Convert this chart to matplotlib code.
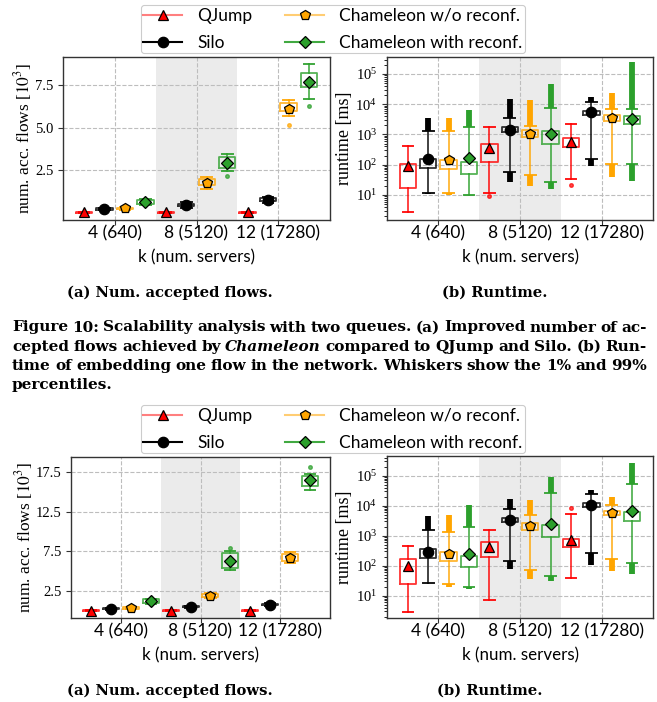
import matplotlib
matplotlib.use('Agg')
import matplotlib.pyplot as plt
from matplotlib.lines import Line2D

plt.rcParams['mathtext.fontset'] = 'stix'
plt.rcParams['axes.linewidth'] = 1.0

SANS = 'Lato'
SERIF = 'Liberation Serif'
CAPSERIF = 'DejaVu Serif'

# ---------------- data ----------------
groups = ['4 (640)', '8 (5120)', '12 (17280)']
series = ['QJump', 'Silo', 'Chameleon w/o reconf.', 'Chameleon with reconf.']
colors = ['#ff0000', '#000000', '#ffa500', '#2ca02c']
markers = ['^', 'o', 'p', 'D']

# (A) two queues: num. accepted flows [10^3]   rows = series, cols = groups
A_mean = [[0.03, 0.03, 0.03], [0.23, 0.48, 0.76], [0.27, 1.77, 6.11], [0.63, 2.91, 7.69]]
A_q1 = [[0.02, 0.02, 0.02], [0.19, 0.42, 0.70], [0.22, 1.64, 5.97], [0.50, 2.62, 7.36]]
A_q3 = [[0.04, 0.04, 0.04], [0.27, 0.55, 0.85], [0.32, 1.97, 6.42], [0.75, 3.26, 8.22]]
A_wlo = [[0.01, 0.01, 0.01], [0.16, 0.32, 0.60], [0.18, 1.40, 5.68], [0.45, 2.48, 6.68]]
A_whi = [[0.05, 0.05, 0.05], [0.30, 0.64, 0.92], [0.36, 2.13, 6.62], [0.80, 3.45, 8.71]]
A_fliers = [[[], [], []], [[], [], []], [[], [], [5.14]], [[], [2.17], [6.27]]]

# (B) two queues: runtime [ms]
B_mean = [[87, 355, 580], [150, 1420, 5400], [138, 1030, 3500], [162, 1030, 3300]]
B_q1 = [[17, 126, 370], [76, 1200, 4470], [71, 810, 2700], [50, 490, 2180]]
B_q3 = [[105, 480, 760], [155, 1700, 5800], [145, 1350, 4260], [126, 1260, 4200]]
B_wlo = [[2.8, 12, 34], [12, 59, 155], [12, 44, 105], [9.8, 26, 105]]
B_whi = [[420, 1740, 2180], [1260, 3500, 11800], [1260, 1900, 7100], [1740, 7400, 7100]]
B_fliers = [[[], [9.5], [21]], [[], [], []], [[], [], []], [[], [], []]]
B_fhi = [[None, None, None], [3500, 14800, 17300], [3600, 13800, 23000], [6500, 47000, 240000]]
B_flo = [[None, None, None], [11, 26, 93], [9.8, 19, 40], [None, 15.4, 28]]

# (C) second figure: num. accepted flows [10^3]
C_mean = [[0.03, 0.03, 0.03], [0.24, 0.50, 0.79], [0.37, 1.91, 6.72], [1.20, 6.34, 16.5]]
C_q1 = [[0.02, 0.02, 0.02], [0.18, 0.42, 0.70], [0.28, 1.72, 6.30], [0.96, 5.43, 15.79]]
C_q3 = [[0.04, 0.04, 0.04], [0.30, 0.58, 0.88], [0.46, 2.10, 7.14], [1.46, 7.30, 17.0]]
C_wlo = [[0.01, 0.01, 0.01], [0.12, 0.33, 0.60], [0.22, 1.62, 6.05], [0.90, 5.09, 15.2]]
C_whi = [[0.05, 0.05, 0.05], [0.36, 0.66, 0.95], [0.52, 2.25, 7.47], [1.52, 7.60, 17.2]]
C_fliers = [[[], [], []], [[], [], []], [[], [], []], [[], [7.93], [18.17]]]

# (D) second figure: runtime [ms]
D_mean = [[97, 430, 720], [293, 3340, 10500], [240, 2100, 5600], [245, 2450, 6600]]
D_q1 = [[24.5, 200, 410], [185, 2950, 8800], [143, 1550, 4800], [93, 930, 3160]]
D_q3 = [[166, 600, 810], [350, 3800, 12000], [293, 2770, 6800], [210, 2300, 6000]]
D_wlo = [[2.9, 7.2, 40], [27, 143, 270], [24, 72, 165], [20, 46, 120]]
D_whi = [[465, 1550, 5300], [1550, 7600, 25600], [1360, 4900, 10500], [2000, 27000, 55000]]
D_fliers = [[[], [], [8200]], [[], [], []], [[], [], []], [[], [], []]]
D_fhi = [[None, None, None], [4650, 16300, 33000], [4900, 15500, 20000], [10500, 93000, 270000]]
D_flo = [[None, None, None], [None, 77, 110], [20, 36, 68], [16.7, 32, 53]]

caption_lines = [
    "Figure 10: Scalability analysis with two queues. (a) Improved number of ac-",
    "cepted flows achieved by Chameleon compared to QJump and Silo. (b) Run-",
    "time of embedding one flow in the network. Whiskers show the 1% and 99%",
    "percentiles.",
]
italic_words = {"Chameleon"}

# ---------------- layout ----------------
W, H = 657, 702
fig = plt.figure(figsize=(W / 100, H / 100), dpi=100)


def rect(x0, y0, x1, y1):
    return [x0 / W, 1 - y1 / H, (x1 - x0) / W, (y1 - y0) / H]


offsets = [-0.375, -0.125, 0.125, 0.375]
TICK_FS = 10.5


def draw_panel(ax, mean, q1, q3, wlo, whi, fliers, fhi=None, flo=None, log=False):
    ax.axvspan(0.5, 1.5, color='#ebebeb', lw=0, zorder=0)
    for si in range(len(series)):
        c = colors[si]
        pos_list = []
        for gi in range(len(groups)):
            pos = gi + offsets[si]
            pos_list.append(pos)
            st = dict(med=mean[si][gi], q1=q1[si][gi], q3=q3[si][gi],
                      whislo=wlo[si][gi], whishi=whi[si][gi], fliers=fliers[si][gi])
            ax.bxp([st], positions=[pos], widths=0.2, capwidths=0.13,
                   boxprops=dict(color=c, lw=1.3, alpha=0.8),
                   whiskerprops=dict(color=c, lw=1.3, alpha=0.8),
                   capprops=dict(color=c, lw=1.4, alpha=0.9),
                   medianprops=dict(visible=False),
                   flierprops=dict(marker='o', ms=2.6, mfc=c, mec=c, alpha=0.7),
                   zorder=3)
            if fhi is not None and fhi[si][gi] is not None:
                ax.vlines(pos, whi[si][gi], fhi[si][gi], color=c, lw=4.2, zorder=3)
            if flo is not None and flo[si][gi] is not None:
                ax.vlines(pos, flo[si][gi], wlo[si][gi], color=c, lw=4.2, zorder=3)
        ax.plot(pos_list, mean[si], ls='none', marker=markers[si], mfc=c, mec='black',
                mew=0.9, ms=7.5 if markers[si] != 'D' else 6.5, zorder=6)
    ax.set_xlim(-0.63, 2.63)
    ax.set_xticks(range(len(groups)))
    ax.set_xticklabels(groups, fontfamily=SANS, fontsize=12.5)
    ax.grid(True, which='major', ls='--', color='#bdbdbd', lw=0.8)
    ax.set_axisbelow(True)
    for sp in ax.spines.values():
        sp.set_color('#333333')
    ax.tick_params(colors='#333333', labelcolor='black')
    ax.tick_params(axis='x', pad=0.5)
    if log:
        ax.set_yscale('log')
        ax.set_yticks([1e1, 1e2, 1e3, 1e4, 1e5])
    for lab in ax.get_yticklabels():
        lab.set_fontfamily(SERIF)
        lab.set_fontsize(TICK_FS)
    ax.set_xlabel('k (num. servers)', fontfamily=SANS, fontsize=12.2)


def set_label_pos(ax, width_px, ylab_off, height_px, xlab_off):
    ax.yaxis.set_label_coords(-ylab_off / width_px, 0.5)
    ax.yaxis.label.set_va('center')
    ax.xaxis.set_label_coords(0.5, -xlab_off / height_px)
    ax.xaxis.label.set_va('center')


def add_legend(top_px):
    handles = []
    line_cols = [(1, 0, 0, 0.5), (0, 0, 0, 1), (1, 0.647, 0, 0.55), (0.173, 0.627, 0.173, 0.9)]
    for si in range(len(series)):
        handles.append(Line2D([], [], color=line_cols[si], lw=1.5, marker=markers[si],
                              mfc=colors[si], mec='black', mew=0.9,
                              ms=7.5 if markers[si] != 'D' else 6.5))
    leg = fig.legend(handles, series, ncol=2, loc='upper center',
                     bbox_to_anchor=(333 / W, 1 - top_px / H),
                     prop=dict(family=SANS, size=12.5), handlelength=2.2,
                     columnspacing=1.9, labelspacing=0.65, borderpad=0.15,
                     handletextpad=0.9, borderaxespad=0, framealpha=1,
                     edgecolor='#cccccc', fancybox=True)
    leg.get_frame().set_linewidth(0.8)


# ---- first figure ----
add_legend(5)
axA = fig.add_axes(rect(63, 57, 330, 220))
draw_panel(axA, A_mean, A_q1, A_q3, A_wlo, A_whi, A_fliers)
axA.set_ylim(-0.41, 9.14)
axA.set_yticks([2.5, 5.0, 7.5])
axA.set_yticklabels(['2.5', '5.0', '7.5'], fontfamily=SERIF, fontsize=TICK_FS)
axA.set_ylabel(r'num. acc. flows [$10^3$]', fontfamily=SERIF, fontsize=12.5)
set_label_pos(axA, 267, 40, 163, 37)

axB = fig.add_axes(rect(387, 57, 653, 220))
draw_panel(axB, B_mean, B_q1, B_q3, B_wlo, B_whi, B_fliers, B_fhi, B_flo, log=True)
axB.set_ylim(1.48, 3.63e5)
axB.set_ylabel('runtime [ms]', fontfamily=SERIF, fontsize=13)
set_label_pos(axB, 266, 43, 163, 37)

# ---- second figure ----
add_legend(405)
axC = fig.add_axes(rect(71, 457, 330, 618))
draw_panel(axC, C_mean, C_q1, C_q3, C_wlo, C_whi, C_fliers)
axC.set_ylim(-0.91, 19.4)
axC.set_yticks([2.5, 7.5, 12.5, 17.5])
axC.set_yticklabels(['2.5', '7.5', '12.5', '17.5'], fontfamily=SERIF, fontsize=TICK_FS)
axC.set_ylabel(r'num. acc. flows [$10^3$]', fontfamily=SERIF, fontsize=12.5)
set_label_pos(axC, 259, 47, 161, 37)

axD = fig.add_axes(rect(387, 456, 653, 618))
draw_panel(axD, D_mean, D_q1, D_q3, D_wlo, D_whi, D_fliers, D_fhi, D_flo, log=True)
axD.set_ylim(1.82, 4.57e5)
axD.set_ylabel('runtime [ms]', fontfamily=SERIF, fontsize=13)
set_label_pos(axD, 266, 42, 162, 37)

# ---- sub-captions ----
for xc, yb, txt in [(170, 297, '(a) Num. accepted flows.'), (495, 297, '(b) Runtime.'),
                    (170, 695, '(a) Num. accepted flows.'), (490, 695, '(b) Runtime.')]:
    fig.text(xc / W, 1 - yb / H, txt, ha='center', va='baseline', fontfamily=CAPSERIF,
             fontweight='bold', fontsize=10.6)

# ---- justified main caption ----
renderer = fig.canvas.get_renderer()
x_left, x_right = 12, 647
baselines = [331.5, 350.7, 369.9, 389.1]
all_txts = []
for li, (line, yb) in enumerate(zip(caption_lines, baselines)):
    txts = []
    for w in line.split():
        t = fig.text(0, 1 - yb / H, w, ha='left', va='baseline', fontfamily=CAPSERIF,
                     fontweight='bold', fontsize=10,
                     fontstyle='italic' if w in italic_words else 'normal')
        txts.append(t)
    all_txts.append(txts)

fs = 11.5
while True:
    ok = True
    for li, txts in enumerate(all_txts[:-1]):
        for t in txts:
            t.set_fontsize(fs)
        widths = [t.get_window_extent(renderer).width for t in txts]
        if (x_right - x_left - sum(widths)) / (len(txts) - 1) < 4.0:
            ok = False
    if ok or fs < 7:
        break
    fs -= 0.05

for li, txts in enumerate(all_txts):
    for t in txts:
        t.set_fontsize(fs)
    widths = [t.get_window_extent(renderer).width for t in txts]
    last = li == len(all_txts) - 1
    if not last and len(txts) > 1:
        gap = (x_right - x_left - sum(widths)) / (len(txts) - 1)
    else:
        gap = 4.5
    x = x_left
    for t, wd in zip(txts, widths):
        t.set_x(x / W)
        x += wd + gap

fig.savefig('out.png', dpi=100)
